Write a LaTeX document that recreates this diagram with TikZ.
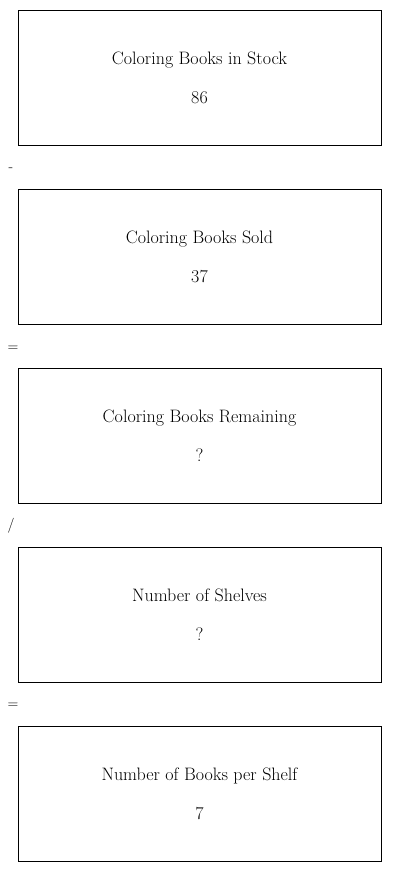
\documentclass[tikz,border=0pt]{standalone}
\usepackage{tikz}
\usetikzlibrary{positioning}

\begin{document}
\begin{tikzpicture}[
    x=1pt, y=-1pt,
    box/.style={draw, line width=0.8pt, minimum width=363pt, minimum height=135pt, align=center, inner sep=0pt, font=\fontsize{18}{39}\selectfont},
    op/.style={inner sep=0pt, font=\fontsize{15}{18}\selectfont}
]
\useasboundingbox (0,0) rectangle (400,872);

% Boxes
\node[box] (stock) at (199.5,77.5) {Coloring Books in Stock\\86};
\node[box, below=43.2pt of stock] (sold) {Coloring Books Sold\\37};
\node[box, below=43.2pt of sold] (remain) {Coloring Books Remaining\\?};
\node[box, below=43.2pt of remain] (shelves) {Number of Shelves\\?};
\node[box, below=43.2pt of shelves] (perShelf) {Number of Books per Shelf\\7};

% Operators
\node[op] (minus) at (11,170) {-};
\node[op] (eqA) at (13,349) {=};
\node[op] (divide) at (11,526) {/};
\node[op] (eqB) at (13,706) {=};

\end{tikzpicture}
\end{document}
